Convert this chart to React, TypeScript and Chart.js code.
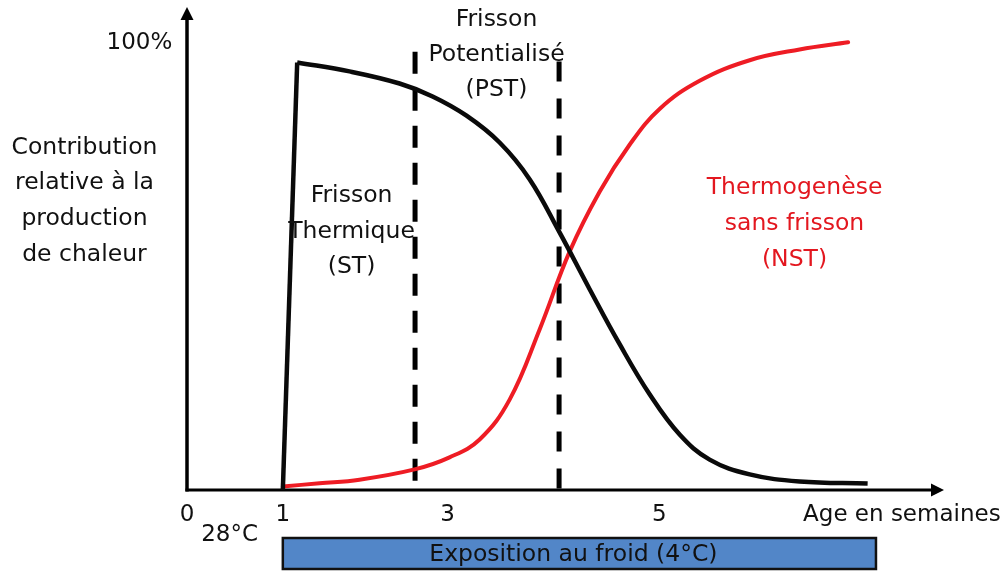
import React, { useEffect, useRef } from "react";
import { Chart, registerables } from "chart.js";

Chart.register(...registerables);

// X axis: age in weeks, Y axis: relative contribution (%)
const xTickValues = [0, 1, 2.72, 4.93];
const xTickLabels = ["0", "1", "3", "5"];

// Shivering thermogenesis (ST / PST) - black curve
const stX = [1.0, 1.15, 1.696, 2.218, 2.563, 2.917, 3.262, 3.575, 3.888, 4.202, 4.515, 4.828, 5.141, 5.454, 5.872, 6.393, 7.103];
const stY = [0, 95.6, 93.6, 90.9, 88.0, 83.7, 77.7, 69.5, 57.6, 44.9, 32.6, 21.4, 12.4, 6.8, 3.5, 1.9, 1.45];

// Non-shivering thermogenesis (NST) - red curve
const nstX = [1.0, 1.383, 1.8, 2.375, 2.74, 3.054, 3.367, 3.68, 3.993, 4.306, 4.619, 4.932, 5.35, 5.872, 6.393, 6.9];
const nstY = [0.8, 1.5, 2.3, 4.6, 7.3, 11.3, 20.2, 35.9, 53.3, 66.7, 77.2, 85.2, 91.5, 96.1, 98.5, 100.1];

// Phase boundaries (dashed lines)
const phaseBoundX = [2.38, 3.883];
const phaseBoundTop = [98.0, 95.8];

// Cold exposure period
const exposureStart = 1;
const exposureEnd = 7.19;

const FONT = '"DejaVu Sans", sans-serif';

export default function App() {
  const ref = useRef<HTMLCanvasElement>(null);

  useEffect(() => {
    if (!ref.current) return;
    const pts = (xs: number[], ys: number[]) => xs.map((x, i) => ({ x, y: ys[i] }));

    const overlay = {
      id: "overlay",
      beforeDatasetsDraw(chart: any) {
        const ctx = chart.ctx;
        const xs = chart.scales.x;
        const ys = chart.scales.y;
        const x0 = xs.getPixelForValue(0);
        const y0 = ys.getPixelForValue(0);
        const yTop = ys.top;
        const xRight = xs.right;
        ctx.save();
        ctx.strokeStyle = "#000";
        ctx.fillStyle = "#000";
        ctx.lineWidth = 3.5;
        ctx.lineCap = "butt";
        // y axis
        ctx.beginPath();
        ctx.moveTo(x0, y0 + 1.5);
        ctx.lineTo(x0, yTop + 10);
        ctx.stroke();
        ctx.beginPath();
        ctx.moveTo(x0, yTop);
        ctx.lineTo(x0 - 6.5, yTop + 13);
        ctx.lineTo(x0 + 6.5, yTop + 13);
        ctx.closePath();
        ctx.fill();
        // x axis
        ctx.lineWidth = 3;
        ctx.beginPath();
        ctx.moveTo(x0 - 1.5, y0);
        ctx.lineTo(xRight - 10, y0);
        ctx.stroke();
        ctx.beginPath();
        ctx.moveTo(xRight, y0);
        ctx.lineTo(xRight - 13, y0 - 6.5);
        ctx.lineTo(xRight - 13, y0 + 6.5);
        ctx.closePath();
        ctx.fill();
        ctx.restore();
      },
      afterDraw(chart: any) {
        const ctx = chart.ctx;
        const xs = chart.scales.x;
        const ys = chart.scales.y;
        const bottom = ys.getPixelForValue(0);
        const px = (v: number) => xs.getPixelForValue(v);
        const py = (v: number) => ys.getPixelForValue(v);
        ctx.save();
        ctx.textAlign = "center";
        ctx.textBaseline = "middle";
        ctx.font = `23px ${FONT}`;
        ctx.fillStyle = "#111";
        // tick labels
        xTickValues.forEach((v, i) => ctx.fillText(xTickLabels[i], px(v), bottom + 25));
        ctx.fillText("Age en semaines", px(7.46), bottom + 25);
        ctx.fillText("28°C", px(0.444), bottom + 45);
        ctx.fillText("100%", px(-0.496), py(100));

        const block = (lines: string[], cx: number, cy: number, gap: number, color: string) => {
          ctx.fillStyle = color;
          const start = cy - ((lines.length - 1) * gap) / 2;
          lines.forEach((l, i) => ctx.fillText(l, cx, start + i * gap));
        };
        ctx.font = `23.5px ${FONT}`;
        block(["Contribution", "relative à la", "production", "de chaleur"], px(-1.07), py(64.6), 35.7, "#111");
        block(["Frisson", "Thermique", "(ST)"], px(1.717), py(57.8), 35.5, "#111");
        block(["Frisson", "Potentialisé", "(PST)"], px(3.23), py(97.4), 35, "#111");
        block(["Thermogenèse", "sans frisson", "(NST)"], px(6.34), py(59.4), 36, "#e3171f");

        // exposure bar
        const bx1 = px(exposureStart);
        const bx2 = px(exposureEnd);
        const by1 = bottom + 48;
        const by2 = bottom + 79;
        ctx.fillStyle = "#5286c8";
        ctx.fillRect(bx1, by1, bx2 - bx1, by2 - by1);
        ctx.strokeStyle = "#111";
        ctx.lineWidth = 2.5;
        ctx.strokeRect(bx1, by1, bx2 - bx1, by2 - by1);
        ctx.fillStyle = "#111";
        ctx.font = `23.5px ${FONT}`;
        ctx.fillText("Exposition au froid (4°C)", (bx1 + bx2) / 2 - 6, (by1 + by2) / 2 + 1);
        ctx.restore();
      },
    };

    const stPts = pts(stX, stY);
    const chart = new Chart(ref.current, {
      type: "line",
      data: {
        datasets: [
          {
            label: "ST rise",
            data: stPts.slice(0, 2),
            borderColor: "#0a0a0a",
            borderWidth: 4.5,
            tension: 0,
            pointRadius: 0,
            clip: false as any,
          },
          {
            label: "ST/PST",
            data: stPts.slice(1),
            borderColor: "#0a0a0a",
            borderWidth: 4.5,
            tension: 0.4,
            pointRadius: 0,
            clip: false as any,
          },
          {
            label: "NST",
            data: pts(nstX, nstY),
            borderColor: "#ee1c24",
            borderWidth: 4,
            tension: 0.4,
            borderCapStyle: "round",
            pointRadius: 0,
            clip: false as any,
          },
          ...phaseBoundX.map((bx, i) => ({
            label: `bound${i}`,
            data: [
              { x: bx, y: phaseBoundTop[i] },
              { x: bx, y: 0 },
            ],
            borderColor: "#000",
            borderWidth: 5,
            borderDash: i === 0 ? [22, 15] : [20, 17],
            tension: 0,
            pointRadius: 0,
            clip: false as any,
          })),
        ],
      },
      options: {
        animation: false,
        responsive: true,
        maintainAspectRatio: false,
        layout: { padding: { left: 187, right: 58, top: 7, bottom: 82 } },
        scales: {
          x: { type: "linear", min: 0, max: 7.9, display: false },
          y: { type: "linear", min: 0, max: 108, display: false },
        },
        plugins: {
          legend: { display: false },
          tooltip: { enabled: false },
        },
      },
      plugins: [overlay],
    });
    return () => chart.destroy();
  }, []);

  return (
    <div style={{ position: "absolute", left: 0, top: 0, width: 1002, height: 572, background: "#fff" }}>
      <canvas ref={ref} />
    </div>
  );
}
